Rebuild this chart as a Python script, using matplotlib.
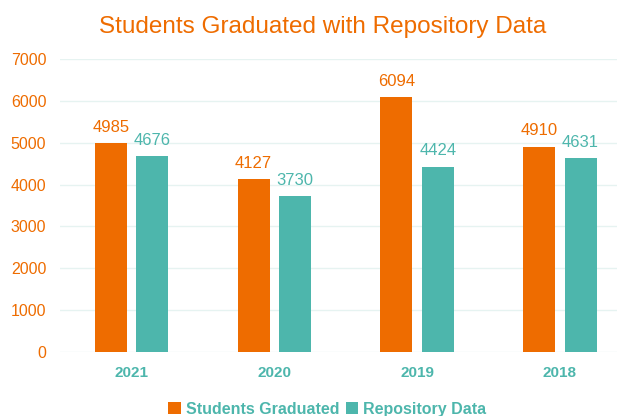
import numpy as np
import matplotlib.pyplot as plt

plt.rcParams['font.family'] = ['Liberation Sans', 'DejaVu Sans']

years = ["2021", "2020", "2019", "2018"]
graduated = [4985, 4127, 6094, 4910]
repository = [4676, 3730, 4424, 4631]

orange = "#EE6C00"
teal = "#4DB6AC"

fig = plt.figure(figsize=(6.27, 4.16), dpi=100)
ax = fig.add_axes([0.096, 0.154, 0.888, 0.704])

x = np.arange(len(years))
w = 0.225
off = 0.145
b1 = ax.bar(x - off, graduated, w, color=orange, label="Students Graduated", zorder=3)
b2 = ax.bar(x + off, repository, w, color=teal, label="Repository Data", zorder=3)

for rect, v in zip(b1, graduated):
    ax.text(rect.get_x() + rect.get_width()/2, v + 200, str(v), ha="center", va="bottom",
            color=orange, fontsize=12)
for rect, v in zip(b2, repository):
    ax.text(rect.get_x() + rect.get_width()/2, v + 200, str(v), ha="center", va="bottom",
            color=teal, fontsize=12)

ax.set_ylim(0, 7000)
ax.set_xlim(-0.5, 3.4)
ax.set_yticks(range(0, 7001, 1000))
ax.set_xticks(x)
ax.set_xticklabels(years, color=teal, fontsize=11, fontweight="bold")
ax.tick_params(axis="y", colors=orange, labelsize=11.5, length=0, pad=10)
ax.tick_params(axis="x", length=0, pad=10)
ax.yaxis.grid(True, color="#e6f3f1", linewidth=1, zorder=0)
for s in ax.spines.values():
    s.set_visible(False)

fig.suptitle("Students Graduated with Repository Data", color=orange, fontsize=17.5,
             x=0.515, y=0.935, va="center")

leg = fig.legend(loc="center", bbox_to_anchor=(0.522, 0.016), ncol=2, frameon=False,
                 fontsize=11.5, handlelength=0.8, handleheight=0.8, handletextpad=0.3, columnspacing=0.4)
for t in leg.get_texts():
    t.set_color(teal)
    t.set_fontweight("bold")

fig.savefig("out.png", dpi=100)
